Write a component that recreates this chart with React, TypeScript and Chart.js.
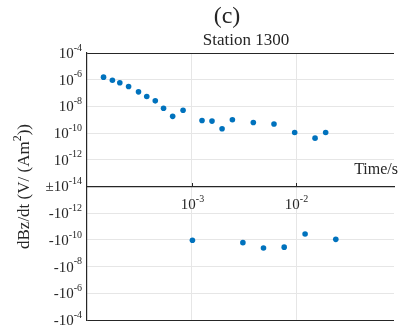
import React, { useEffect, useRef } from "react";
import { Chart, registerables } from "chart.js";

Chart.register(...registerables);

// Station 1300: dBz/dt decay, positive and negative samples
const posTimes = [1.44e-4, 1.75e-4, 2.06e-4, 2.5e-4, 3.11e-4, 3.73e-4, 4.5e-4, 5.4e-4, 6.6e-4, 8.3e-4, 1.26e-3, 1.57e-3, 1.96e-3, 2.46e-3, 3.9e-3, 6.15e-3, 9.7e-3, 1.52e-2, 1.92e-2];
const posValues = [1.55e-6, 9.1e-7, 5.9e-7, 3.1e-7, 1.23e-7, 5.5e-8, 2.6e-8, 7.3e-9, 1.8e-9, 5.1e-9, 8.9e-10, 7.9e-10, 2.1e-10, 1.0e-9, 6.3e-10, 4.8e-10, 1.1e-10, 4.2e-11, 1.1e-10];
const negTimes = [1.02e-3, 3.1e-3, 4.88e-3, 7.7e-3, 1.22e-2, 2.4e-2];
const negValues = [-1.07e-10, -1.6e-10, -4.0e-10, -3.5e-10, -3.6e-11, -9.1e-11];

// Symmetric log axis: |v| below FLOOR collapses to 0, each decade is one unit
const FLOOR_EXP = -14;
const TOP_EXP = -4;
const xTickLabelExps = [-3, -2];
// time axis limits (log10 s)
const X_MIN_EXP = -4;
const X_MAX_EXP = -1.063;

const serif = "'Liberation Serif', 'Times New Roman', serif";
const markerColor = "#0072BD";
const axisColor = "#262626";
const gridColor = "#e6e6e6";

const symLog = (v: number) => {
  if (v === 0) return 0;
  const m = Math.max(Math.log10(Math.abs(v)) - FLOOR_EXP, 0);
  return Math.sign(v) * m;
};

const pairs = (ts: number[], vs: number[]) => ts.map((t, i) => ({ x: t, y: symLog(vs[i]) }));

function drawPower(
  ctx: CanvasRenderingContext2D,
  base: string,
  exp: string,
  x: number,
  y: number,
  align: "right" | "center",
  baseSize = 15,
  expSize = 10
) {
  ctx.save();
  ctx.textBaseline = "middle";
  ctx.textAlign = "left";
  ctx.font = `${baseSize}px ${serif}`;
  const wb = ctx.measureText(base).width;
  ctx.font = `${expSize}px ${serif}`;
  const we = ctx.measureText(exp).width;
  const total = wb + we;
  const start = align === "right" ? x - total : x - total / 2;
  ctx.fillStyle = "#262626";
  ctx.font = `${baseSize}px ${serif}`;
  ctx.fillText(base, start, y);
  ctx.font = `${expSize}px ${serif}`;
  ctx.fillText(exp, start + wb, y - 6);
  ctx.restore();
}

const decorations = {
  id: "decorations",
  afterDraw(chart: any) {
    const { ctx } = chart;
    const xs = chart.scales.x;
    const ys = chart.scales.y;
    const zeroY = ys.getPixelForValue(0);

    // y tick labels
    for (let u = -10; u <= 10; u += 2) {
      const py = ys.getPixelForValue(u);
      const e = FLOOR_EXP + Math.abs(u);
      const base = u > 0 ? "10" : u < 0 ? "-10" : "\u00b110";
      drawPower(ctx, base, String(e), xs.left - 5, py + 1, "right");
    }

    // x tick marks (inward) and labels on the zero line
    ctx.save();
    ctx.strokeStyle = axisColor;
    ctx.lineWidth = 1;
    xTickLabelExps.forEach((e) => {
      const px = Math.round(xs.getPixelForValue(Math.pow(10, e))) + 0.5;
      ctx.beginPath();
      ctx.moveTo(px, zeroY);
      ctx.lineTo(px, zeroY - 3.5);
      ctx.stroke();
      drawPower(ctx, "10", String(e), px, zeroY + 19, "center");
    });
    ctx.restore();

    ctx.save();
    ctx.fillStyle = "#262626";
    ctx.textBaseline = "middle";

    // x-axis name
    ctx.font = `16px ${serif}`;
    ctx.textAlign = "right";
    ctx.fillText("Time/s", 398, zeroY - 17);

    // titles
    ctx.textAlign = "center";
    ctx.font = `24px ${serif}`;
    ctx.fillText("(c)", 227, 17);
    ctx.font = `17px ${serif}`;
    ctx.fillText("Station 1300", 246, 41);
    ctx.restore();

    // y-axis name, rotated, with superscript 2
    ctx.save();
    ctx.translate(25, zeroY);
    ctx.rotate(-Math.PI / 2);
    ctx.fillStyle = "#262626";
    ctx.textBaseline = "middle";
    ctx.textAlign = "left";
    const mainSize = 17;
    const supSize = 12;
    const p1 = "dBz/dt (V/ (Am";
    const p2 = "2";
    const p3 = "))";
    ctx.font = `${mainSize}px ${serif}`;
    const w1 = ctx.measureText(p1).width;
    const w3 = ctx.measureText(p3).width;
    ctx.font = `${supSize}px ${serif}`;
    const w2 = ctx.measureText(p2).width;
    let cx = -(w1 + w2 + w3) / 2;
    ctx.font = `${mainSize}px ${serif}`;
    ctx.fillText(p1, cx, 0);
    cx += w1;
    ctx.font = `${supSize}px ${serif}`;
    ctx.fillText(p2, cx, -7);
    cx += w2;
    ctx.font = `${mainSize}px ${serif}`;
    ctx.fillText(p3, cx, 0);
    ctx.restore();
  },
};

export default function App() {
  const canvasRef = useRef<HTMLCanvasElement | null>(null);

  useEffect(() => {
    const canvas = canvasRef.current;
    if (!canvas) return;
    const isDecade = (v: number) => Math.abs(Math.log10(v) - Math.round(Math.log10(v))) < 1e-9;

    const chart = new Chart(canvas, {
      type: "scatter",
      data: {
        datasets: [
          {
            data: pairs(posTimes, posValues),
            backgroundColor: markerColor,
            borderWidth: 0,
            pointRadius: 2.8,
          },
          {
            data: pairs(negTimes, negValues),
            backgroundColor: markerColor,
            borderWidth: 0,
            pointRadius: 2.8,
          },
        ],
      },
      options: {
        animation: false,
        responsive: false,
        devicePixelRatio: 1,
        layout: { padding: { left: 87, top: 53, right: 0, bottom: 14 } },
        plugins: {
          legend: { display: false },
          tooltip: { enabled: false },
          title: { display: false },
        },
        scales: {
          x: {
            type: "logarithmic",
            min: Math.pow(10, X_MIN_EXP),
            max: Math.pow(10, X_MAX_EXP),
            position: { y: 0 } as any,
            afterBuildTicks: (scale: any) => {
              scale.ticks = scale.ticks.filter((t: any) => isDecade(t.value));
            },
            ticks: { display: false },
            grid: {
              drawTicks: false,
              lineWidth: 1,
              color: (c: any) => (c.tick && c.tick.value > 1.5e-4 ? gridColor : "rgba(0,0,0,0)"),
            },
            border: { display: true, color: axisColor, width: 1.2 },
          },
          y: {
            type: "linear",
            min: FLOOR_EXP - TOP_EXP,
            max: TOP_EXP - FLOOR_EXP,
            afterFit: (scale: any) => {
              scale.width = 0;
            },
            ticks: { display: false, stepSize: 2 },
            grid: {
              drawTicks: false,
              lineWidth: 1,
              color: (c: any) => {
                const v = c.tick ? c.tick.value : 1;
                return v === 0 || Math.abs(v) === 10 ? axisColor : gridColor;
              },
            },
            border: { display: true, color: axisColor, width: 1.2 },
          },
        },
      },
      plugins: [decorations],
    });

    return () => chart.destroy();
  }, []);

  return (
    <div
      style={{
        position: "fixed",
        left: 0,
        top: 0,
        width: 398,
        height: 334,
        overflow: "hidden",
        background: "#ffffff",
      }}
    >
      <canvas ref={canvasRef} width={398} height={334} style={{ display: "block" }} />
    </div>
  );
}
